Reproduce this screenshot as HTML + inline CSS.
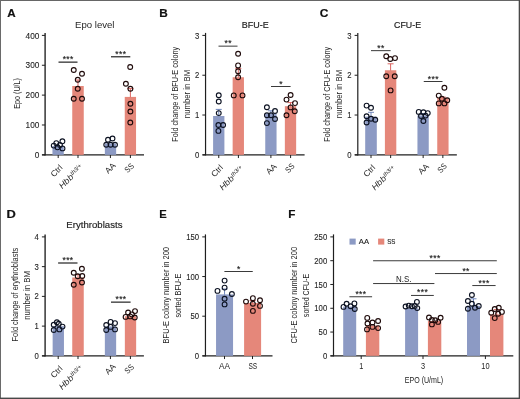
<!DOCTYPE html>
<html lang="en"><head><meta charset="utf-8"><title>Figure</title>
<style>
html,body{margin:0;padding:0;background:#fff;}
body{width:520px;height:399px;overflow:hidden;font-family:"Liberation Sans",Arial,sans-serif;}
svg{display:block;}
svg text{font-family:"Liberation Sans",Arial,sans-serif;}
</style></head><body>
<svg width="520" height="399" viewBox="0 0 520 399" role="img" aria-label="Bar charts A to F">
<rect x="0" y="0" width="520" height="399" fill="#ffffff"/>
<rect x="0.00" y="0.00" width="520.00" height="1.00" fill="#666666"/>
<rect x="0.00" y="0.00" width="1.00" height="399.00" fill="#6a6a6a"/>
<rect x="518.70" y="0.00" width="1.30" height="399.00" fill="#484848"/>
<rect x="0.00" y="397.60" width="520.00" height="1.40" fill="#484848"/>
<text transform="translate(7.31,16.70) scale(0.9854,1)" font-size="11.8" font-weight="bold" fill="#111" stroke="#111" stroke-width="0.2">A</text>
<text transform="translate(159.21,16.70)" font-size="11.8" font-weight="bold" fill="#111" stroke="#111" stroke-width="0.2">B</text>
<text transform="translate(319.71,16.70) scale(1.0105,1)" font-size="11.8" font-weight="bold" fill="#111" stroke="#111" stroke-width="0.2">C</text>
<text transform="translate(6.54,217.70) scale(1.0916,1)" font-size="11.8" font-weight="bold" fill="#111" stroke="#111" stroke-width="0.2">D</text>
<text transform="translate(159.35,217.70) scale(0.9506,1)" font-size="11.8" font-weight="bold" fill="#111" stroke="#111" stroke-width="0.2">E</text>
<text transform="translate(288.17,217.70) scale(0.9936,1)" font-size="11.8" font-weight="bold" fill="#111" stroke="#111" stroke-width="0.2">F</text>
<line x1="45.10" y1="32.90" x2="45.10" y2="155.40" stroke="#1f1f1f" stroke-width="1.35"/>
<line x1="41.90" y1="154.85" x2="45.10" y2="154.85" stroke="#1f1f1f" stroke-width="1.0"/>
<text transform="translate(39.40,157.95) scale(0.8990,1)" font-size="9.2" text-anchor="end" fill="#262626" stroke="#262626" stroke-width="0.12">0</text>
<line x1="41.90" y1="124.99" x2="45.10" y2="124.99" stroke="#1f1f1f" stroke-width="1.0"/>
<text transform="translate(39.40,128.09) scale(0.8990,1)" font-size="9.2" text-anchor="end" fill="#262626" stroke="#262626" stroke-width="0.12">100</text>
<line x1="41.90" y1="95.12" x2="45.10" y2="95.12" stroke="#1f1f1f" stroke-width="1.0"/>
<text transform="translate(39.40,98.22) scale(0.8990,1)" font-size="9.2" text-anchor="end" fill="#262626" stroke="#262626" stroke-width="0.12">200</text>
<line x1="41.90" y1="65.26" x2="45.10" y2="65.26" stroke="#1f1f1f" stroke-width="1.0"/>
<text transform="translate(39.40,68.36) scale(0.8990,1)" font-size="9.2" text-anchor="end" fill="#262626" stroke="#262626" stroke-width="0.12">300</text>
<line x1="41.90" y1="35.40" x2="45.10" y2="35.40" stroke="#1f1f1f" stroke-width="1.0"/>
<text transform="translate(39.40,38.50) scale(0.8990,1)" font-size="9.2" text-anchor="end" fill="#262626" stroke="#262626" stroke-width="0.12">400</text>
<line x1="42.10" y1="154.85" x2="144.00" y2="154.85" stroke="#1f1f1f" stroke-width="1.25"/>
<line x1="58.20" y1="154.85" x2="58.20" y2="158.05" stroke="#1f1f1f" stroke-width="1.0"/>
<line x1="78.00" y1="154.85" x2="78.00" y2="158.05" stroke="#1f1f1f" stroke-width="1.0"/>
<line x1="110.40" y1="154.85" x2="110.40" y2="158.05" stroke="#1f1f1f" stroke-width="1.0"/>
<line x1="130.40" y1="154.85" x2="130.40" y2="158.05" stroke="#1f1f1f" stroke-width="1.0"/>
<text transform="translate(94.75,27.60) scale(1.0669,1)" font-size="9.0" text-anchor="middle" fill="#262626">Epo level</text>
<text transform="translate(19.70,93.40) rotate(-90) scale(0.8179,1)" font-size="8.8" text-anchor="middle" fill="#262626">Epo (U/L)</text>
<rect x="52.45" y="146.00" width="11.30" height="8.85" fill="#8c9ac4"/>
<circle cx="53.75" cy="145.60" r="2.4" fill="none" stroke="#0c1222" stroke-width="1.12"/>
<circle cx="56.30" cy="143.20" r="2.4" fill="none" stroke="#0c1222" stroke-width="1.12"/>
<circle cx="62.40" cy="141.30" r="2.4" fill="none" stroke="#0c1222" stroke-width="1.12"/>
<circle cx="60.00" cy="145.00" r="2.4" fill="none" stroke="#0c1222" stroke-width="1.12"/>
<circle cx="62.50" cy="148.40" r="2.4" fill="none" stroke="#0c1222" stroke-width="1.12"/>
<circle cx="57.50" cy="147.30" r="2.4" fill="none" stroke="#0c1222" stroke-width="1.12"/>
<rect x="72.25" y="86.00" width="11.50" height="68.85" fill="#e5877a"/>
<line x1="78.00" y1="80.00" x2="78.00" y2="86.30" stroke="#d8544f" stroke-width="0.9"/>
<line x1="75.00" y1="80.00" x2="81.00" y2="80.00" stroke="#d8544f" stroke-width="0.9"/>
<circle cx="73.75" cy="70.00" r="2.4" fill="none" stroke="#1e0a0a" stroke-width="1.12"/>
<circle cx="82.00" cy="73.75" r="2.4" fill="none" stroke="#1e0a0a" stroke-width="1.12"/>
<circle cx="77.75" cy="79.75" r="2.4" fill="none" stroke="#1e0a0a" stroke-width="1.12"/>
<circle cx="77.75" cy="88.75" r="2.4" fill="none" stroke="#1e0a0a" stroke-width="1.12"/>
<circle cx="73.75" cy="98.75" r="2.4" fill="none" stroke="#1e0a0a" stroke-width="1.12"/>
<circle cx="82.00" cy="98.75" r="2.4" fill="none" stroke="#1e0a0a" stroke-width="1.12"/>
<rect x="104.85" y="143.40" width="11.30" height="11.45" fill="#8c9ac4"/>
<circle cx="108.00" cy="139.75" r="2.4" fill="none" stroke="#0c1222" stroke-width="1.12"/>
<circle cx="112.50" cy="138.50" r="2.4" fill="none" stroke="#0c1222" stroke-width="1.12"/>
<circle cx="106.25" cy="144.75" r="2.4" fill="none" stroke="#0c1222" stroke-width="1.12"/>
<circle cx="110.60" cy="144.75" r="2.4" fill="none" stroke="#0c1222" stroke-width="1.12"/>
<circle cx="115.00" cy="144.75" r="2.4" fill="none" stroke="#0c1222" stroke-width="1.12"/>
<rect x="124.75" y="96.90" width="11.30" height="57.95" fill="#e5877a"/>
<line x1="130.40" y1="88.60" x2="130.40" y2="97.20" stroke="#d8544f" stroke-width="0.9"/>
<line x1="127.40" y1="88.60" x2="133.40" y2="88.60" stroke="#d8544f" stroke-width="0.9"/>
<circle cx="130.20" cy="67.00" r="2.4" fill="none" stroke="#1e0a0a" stroke-width="1.12"/>
<circle cx="125.90" cy="83.75" r="2.4" fill="none" stroke="#1e0a0a" stroke-width="1.12"/>
<circle cx="130.40" cy="88.75" r="2.4" fill="none" stroke="#1e0a0a" stroke-width="1.12"/>
<circle cx="130.40" cy="103.75" r="2.4" fill="none" stroke="#1e0a0a" stroke-width="1.12"/>
<circle cx="130.40" cy="111.50" r="2.4" fill="none" stroke="#1e0a0a" stroke-width="1.12"/>
<circle cx="130.30" cy="122.50" r="2.4" fill="none" stroke="#1e0a0a" stroke-width="1.12"/>
<line x1="58.50" y1="62.15" x2="77.50" y2="62.15" stroke="#3a3a3a" stroke-width="1.35"/>
<text transform="translate(68.20,62.15)" font-size="8.5" text-anchor="middle" fill="#1a1a1a" letter-spacing="0.4" stroke="#1a1a1a" stroke-width="0.15">***</text>
<line x1="111.00" y1="56.75" x2="130.30" y2="56.75" stroke="#3a3a3a" stroke-width="1.35"/>
<text transform="translate(120.85,56.75)" font-size="8.5" text-anchor="middle" fill="#1a1a1a" letter-spacing="0.4" stroke="#1a1a1a" stroke-width="0.15">***</text>
<text transform="translate(63.10,168.30) rotate(-45)" font-size="8.3" text-anchor="end" fill="#262626">Ctrl</text>
<g transform="translate(83.70,167.80) rotate(-45)" font-style="italic" fill="#262626"><text transform="translate(-13.79,0) scale(1.08,1)" text-anchor="end" font-size="8.4">Hbb</text><text x="-13.29" y="-2.5" font-size="5.9">th3/+</text></g>
<text transform="translate(116.20,166.10) rotate(-45)" font-size="8.3" text-anchor="end" fill="#262626">AA</text>
<text transform="translate(134.60,166.60) rotate(-45) scale(0.8600,1)" font-size="8.3" text-anchor="end" fill="#262626">SS</text>
<line x1="205.55" y1="32.90" x2="205.55" y2="155.40" stroke="#1f1f1f" stroke-width="1.2000000000000002"/>
<line x1="202.35" y1="154.85" x2="205.55" y2="154.85" stroke="#1f1f1f" stroke-width="1.0"/>
<text transform="translate(199.25,157.95) scale(0.8404,1)" font-size="9.2" text-anchor="end" fill="#262626" stroke="#262626" stroke-width="0.12">0</text>
<line x1="202.35" y1="115.03" x2="205.55" y2="115.03" stroke="#1f1f1f" stroke-width="1.0"/>
<text transform="translate(199.25,118.13) scale(0.8404,1)" font-size="9.2" text-anchor="end" fill="#262626" stroke="#262626" stroke-width="0.12">1</text>
<line x1="202.35" y1="75.22" x2="205.55" y2="75.22" stroke="#1f1f1f" stroke-width="1.0"/>
<text transform="translate(199.25,78.32) scale(0.8404,1)" font-size="9.2" text-anchor="end" fill="#262626" stroke="#262626" stroke-width="0.12">2</text>
<line x1="202.35" y1="35.40" x2="205.55" y2="35.40" stroke="#1f1f1f" stroke-width="1.0"/>
<text transform="translate(199.25,38.50) scale(0.8404,1)" font-size="9.2" text-anchor="end" fill="#262626" stroke="#262626" stroke-width="0.12">3</text>
<line x1="202.55" y1="154.85" x2="304.60" y2="154.85" stroke="#1f1f1f" stroke-width="1.1"/>
<line x1="218.75" y1="154.85" x2="218.75" y2="158.05" stroke="#1f1f1f" stroke-width="1.0"/>
<line x1="238.40" y1="154.85" x2="238.40" y2="158.05" stroke="#1f1f1f" stroke-width="1.0"/>
<line x1="270.90" y1="154.85" x2="270.90" y2="158.05" stroke="#1f1f1f" stroke-width="1.0"/>
<line x1="290.60" y1="154.85" x2="290.60" y2="158.05" stroke="#1f1f1f" stroke-width="1.0"/>
<text transform="translate(255.30,27.85) scale(0.9278,1)" font-size="9.7" text-anchor="middle" fill="#222" stroke="#222" stroke-width="0.2">BFU-E</text>
<text transform="translate(178.20,94.25) rotate(-90) scale(0.7820,1)" font-size="9.3" text-anchor="middle" fill="#262626">Fold change of BFU-E colony</text>
<text transform="translate(189.80,94.00) rotate(-90) scale(0.8361,1)" font-size="9.3" text-anchor="middle" fill="#262626">number in BM</text>
<text transform="translate(223.60,168.30) rotate(-45)" font-size="8.3" text-anchor="end" fill="#262626">Ctrl</text>
<g transform="translate(244.20,169.30) rotate(-45)" font-style="italic" fill="#262626"><text transform="translate(-13.79,0) scale(1.08,1)" text-anchor="end" font-size="8.4">Hbb</text><text x="-13.29" y="-2.5" font-size="5.9">th3/+</text></g>
<text transform="translate(277.10,167.00) rotate(-45)" font-size="8.3" text-anchor="end" fill="#262626">AA</text>
<text transform="translate(295.20,166.70) rotate(-45) scale(0.8600,1)" font-size="8.3" text-anchor="end" fill="#262626">SS</text>
<rect x="213.10" y="116.00" width="11.30" height="38.85" fill="#8c9ac4"/>
<line x1="218.75" y1="109.40" x2="218.75" y2="116.30" stroke="#5f78b3" stroke-width="0.9"/>
<line x1="215.75" y1="109.40" x2="221.75" y2="109.40" stroke="#5f78b3" stroke-width="0.9"/>
<circle cx="218.75" cy="95.25" r="2.4" fill="none" stroke="#0c1222" stroke-width="1.12"/>
<circle cx="218.75" cy="101.50" r="2.4" fill="none" stroke="#0c1222" stroke-width="1.12"/>
<circle cx="218.75" cy="113.10" r="2.4" fill="none" stroke="#0c1222" stroke-width="1.12"/>
<circle cx="218.40" cy="125.00" r="2.4" fill="none" stroke="#0c1222" stroke-width="1.12"/>
<circle cx="223.10" cy="125.00" r="2.4" fill="none" stroke="#0c1222" stroke-width="1.12"/>
<circle cx="218.40" cy="130.90" r="2.4" fill="none" stroke="#0c1222" stroke-width="1.12"/>
<rect x="232.65" y="77.25" width="11.30" height="77.60" fill="#e5877a"/>
<line x1="238.30" y1="68.60" x2="238.30" y2="77.55" stroke="#d8544f" stroke-width="0.9"/>
<line x1="235.30" y1="68.60" x2="241.30" y2="68.60" stroke="#d8544f" stroke-width="0.9"/>
<circle cx="238.10" cy="53.75" r="2.4" fill="none" stroke="#1e0a0a" stroke-width="1.12"/>
<circle cx="238.10" cy="65.40" r="2.4" fill="none" stroke="#1e0a0a" stroke-width="1.12"/>
<circle cx="238.10" cy="71.25" r="2.4" fill="none" stroke="#1e0a0a" stroke-width="1.12"/>
<circle cx="238.10" cy="77.25" r="2.4" fill="none" stroke="#1e0a0a" stroke-width="1.12"/>
<circle cx="233.75" cy="95.40" r="2.4" fill="none" stroke="#1e0a0a" stroke-width="1.12"/>
<circle cx="242.50" cy="95.40" r="2.4" fill="none" stroke="#1e0a0a" stroke-width="1.12"/>
<rect x="265.25" y="113.60" width="11.30" height="41.25" fill="#8c9ac4"/>
<line x1="270.90" y1="110.80" x2="270.90" y2="113.90" stroke="#5f78b3" stroke-width="0.9"/>
<line x1="267.90" y1="110.80" x2="273.90" y2="110.80" stroke="#5f78b3" stroke-width="0.9"/>
<circle cx="266.90" cy="107.25" r="2.4" fill="none" stroke="#0c1222" stroke-width="1.12"/>
<circle cx="275.00" cy="111.00" r="2.4" fill="none" stroke="#0c1222" stroke-width="1.12"/>
<circle cx="266.90" cy="115.25" r="2.4" fill="none" stroke="#0c1222" stroke-width="1.12"/>
<circle cx="271.00" cy="115.25" r="2.4" fill="none" stroke="#0c1222" stroke-width="1.12"/>
<circle cx="275.00" cy="119.00" r="2.4" fill="none" stroke="#0c1222" stroke-width="1.12"/>
<circle cx="266.90" cy="123.10" r="2.4" fill="none" stroke="#0c1222" stroke-width="1.12"/>
<rect x="284.85" y="106.20" width="11.30" height="48.65" fill="#e5877a"/>
<line x1="290.50" y1="102.60" x2="290.50" y2="106.50" stroke="#d8544f" stroke-width="0.9"/>
<line x1="287.50" y1="102.60" x2="293.50" y2="102.60" stroke="#d8544f" stroke-width="0.9"/>
<circle cx="290.60" cy="95.00" r="2.4" fill="none" stroke="#1e0a0a" stroke-width="1.12"/>
<circle cx="286.50" cy="99.60" r="2.4" fill="none" stroke="#1e0a0a" stroke-width="1.12"/>
<circle cx="295.00" cy="103.10" r="2.4" fill="none" stroke="#1e0a0a" stroke-width="1.12"/>
<circle cx="290.60" cy="107.40" r="2.4" fill="none" stroke="#1e0a0a" stroke-width="1.12"/>
<circle cx="294.75" cy="111.25" r="2.4" fill="none" stroke="#1e0a0a" stroke-width="1.12"/>
<circle cx="286.50" cy="115.25" r="2.4" fill="none" stroke="#1e0a0a" stroke-width="1.12"/>
<line x1="218.50" y1="46.15" x2="237.50" y2="46.15" stroke="#3a3a3a" stroke-width="1.0"/>
<text transform="translate(228.20,46.15)" font-size="8.5" text-anchor="middle" fill="#1a1a1a" letter-spacing="0.4" stroke="#1a1a1a" stroke-width="0.15">**</text>
<line x1="271.00" y1="86.50" x2="290.60" y2="86.50" stroke="#3a3a3a" stroke-width="1.0"/>
<text transform="translate(281.00,86.50)" font-size="8.5" text-anchor="middle" fill="#1a1a1a" letter-spacing="0.4" stroke="#1a1a1a" stroke-width="0.15">*</text>
<line x1="357.80" y1="32.90" x2="357.80" y2="155.40" stroke="#1f1f1f" stroke-width="1.2000000000000002"/>
<line x1="354.60" y1="154.85" x2="357.80" y2="154.85" stroke="#1f1f1f" stroke-width="1.0"/>
<text transform="translate(351.50,157.95) scale(0.8404,1)" font-size="9.2" text-anchor="end" fill="#262626" stroke="#262626" stroke-width="0.12">0</text>
<line x1="354.60" y1="115.03" x2="357.80" y2="115.03" stroke="#1f1f1f" stroke-width="1.0"/>
<text transform="translate(351.50,118.13) scale(0.8404,1)" font-size="9.2" text-anchor="end" fill="#262626" stroke="#262626" stroke-width="0.12">1</text>
<line x1="354.60" y1="75.22" x2="357.80" y2="75.22" stroke="#1f1f1f" stroke-width="1.0"/>
<text transform="translate(351.50,78.32) scale(0.8404,1)" font-size="9.2" text-anchor="end" fill="#262626" stroke="#262626" stroke-width="0.12">2</text>
<line x1="354.60" y1="35.40" x2="357.80" y2="35.40" stroke="#1f1f1f" stroke-width="1.0"/>
<text transform="translate(351.50,38.50) scale(0.8404,1)" font-size="9.2" text-anchor="end" fill="#262626" stroke="#262626" stroke-width="0.12">3</text>
<line x1="354.80" y1="154.85" x2="456.85" y2="154.85" stroke="#1f1f1f" stroke-width="1.1"/>
<line x1="371.00" y1="154.85" x2="371.00" y2="158.05" stroke="#1f1f1f" stroke-width="1.0"/>
<line x1="390.65" y1="154.85" x2="390.65" y2="158.05" stroke="#1f1f1f" stroke-width="1.0"/>
<line x1="423.15" y1="154.85" x2="423.15" y2="158.05" stroke="#1f1f1f" stroke-width="1.0"/>
<line x1="442.85" y1="154.85" x2="442.85" y2="158.05" stroke="#1f1f1f" stroke-width="1.0"/>
<text transform="translate(407.55,27.85) scale(0.9111,1)" font-size="9.7" text-anchor="middle" fill="#222" stroke="#222" stroke-width="0.2">CFU-E</text>
<text transform="translate(330.45,94.25) rotate(-90) scale(0.7787,1)" font-size="9.3" text-anchor="middle" fill="#262626">Fold change of CFU-E colony</text>
<text transform="translate(342.05,94.00) rotate(-90) scale(0.8361,1)" font-size="9.3" text-anchor="middle" fill="#262626">number in BM</text>
<text transform="translate(375.85,168.30) rotate(-45)" font-size="8.3" text-anchor="end" fill="#262626">Ctrl</text>
<g transform="translate(396.45,169.30) rotate(-45)" font-style="italic" fill="#262626"><text transform="translate(-13.79,0) scale(1.08,1)" text-anchor="end" font-size="8.4">Hbb</text><text x="-13.29" y="-2.5" font-size="5.9">th3/+</text></g>
<text transform="translate(429.35,167.00) rotate(-45)" font-size="8.3" text-anchor="end" fill="#262626">AA</text>
<text transform="translate(447.45,166.70) rotate(-45) scale(0.8600,1)" font-size="8.3" text-anchor="end" fill="#262626">SS</text>
<rect x="365.20" y="116.60" width="11.60" height="38.25" fill="#8c9ac4"/>
<line x1="371.00" y1="112.30" x2="371.00" y2="116.90" stroke="#5f78b3" stroke-width="0.9"/>
<line x1="368.00" y1="112.30" x2="374.00" y2="112.30" stroke="#5f78b3" stroke-width="0.9"/>
<circle cx="366.60" cy="105.60" r="2.4" fill="none" stroke="#0c1222" stroke-width="1.12"/>
<circle cx="371.00" cy="107.75" r="2.4" fill="none" stroke="#0c1222" stroke-width="1.12"/>
<circle cx="366.60" cy="116.25" r="2.4" fill="none" stroke="#0c1222" stroke-width="1.12"/>
<circle cx="371.00" cy="118.75" r="2.4" fill="none" stroke="#0c1222" stroke-width="1.12"/>
<circle cx="375.25" cy="119.75" r="2.4" fill="none" stroke="#0c1222" stroke-width="1.12"/>
<circle cx="366.60" cy="122.50" r="2.4" fill="none" stroke="#0c1222" stroke-width="1.12"/>
<rect x="384.90" y="70.25" width="11.40" height="84.60" fill="#e5877a"/>
<line x1="390.60" y1="63.80" x2="390.60" y2="70.55" stroke="#d8544f" stroke-width="0.9"/>
<line x1="387.60" y1="63.80" x2="393.60" y2="63.80" stroke="#d8544f" stroke-width="0.9"/>
<circle cx="386.25" cy="56.25" r="2.4" fill="none" stroke="#1e0a0a" stroke-width="1.12"/>
<circle cx="390.25" cy="59.00" r="2.4" fill="none" stroke="#1e0a0a" stroke-width="1.12"/>
<circle cx="395.00" cy="58.10" r="2.4" fill="none" stroke="#1e0a0a" stroke-width="1.12"/>
<circle cx="386.25" cy="76.25" r="2.4" fill="none" stroke="#1e0a0a" stroke-width="1.12"/>
<circle cx="394.75" cy="76.25" r="2.4" fill="none" stroke="#1e0a0a" stroke-width="1.12"/>
<circle cx="390.60" cy="90.40" r="2.4" fill="none" stroke="#1e0a0a" stroke-width="1.12"/>
<rect x="417.45" y="115.40" width="11.30" height="39.45" fill="#8c9ac4"/>
<line x1="423.10" y1="113.60" x2="423.10" y2="115.70" stroke="#5f78b3" stroke-width="0.9"/>
<line x1="420.10" y1="113.60" x2="426.10" y2="113.60" stroke="#5f78b3" stroke-width="0.9"/>
<circle cx="418.75" cy="111.90" r="2.4" fill="none" stroke="#0c1222" stroke-width="1.12"/>
<circle cx="423.40" cy="112.25" r="2.4" fill="none" stroke="#0c1222" stroke-width="1.12"/>
<circle cx="427.75" cy="113.10" r="2.4" fill="none" stroke="#0c1222" stroke-width="1.12"/>
<circle cx="421.00" cy="116.00" r="2.4" fill="none" stroke="#0c1222" stroke-width="1.12"/>
<circle cx="425.60" cy="115.60" r="2.4" fill="none" stroke="#0c1222" stroke-width="1.12"/>
<circle cx="423.40" cy="121.00" r="2.4" fill="none" stroke="#0c1222" stroke-width="1.12"/>
<rect x="437.25" y="97.90" width="11.30" height="56.95" fill="#e5877a"/>
<line x1="442.90" y1="97.20" x2="442.90" y2="98.20" stroke="#d8544f" stroke-width="0.9"/>
<line x1="439.90" y1="97.20" x2="445.90" y2="97.20" stroke="#d8544f" stroke-width="0.9"/>
<circle cx="444.40" cy="87.75" r="2.4" fill="none" stroke="#1e0a0a" stroke-width="1.12"/>
<circle cx="438.75" cy="95.60" r="2.4" fill="none" stroke="#1e0a0a" stroke-width="1.12"/>
<circle cx="441.90" cy="98.75" r="2.4" fill="none" stroke="#1e0a0a" stroke-width="1.12"/>
<circle cx="447.25" cy="100.25" r="2.4" fill="none" stroke="#1e0a0a" stroke-width="1.12"/>
<circle cx="438.75" cy="103.40" r="2.4" fill="none" stroke="#1e0a0a" stroke-width="1.12"/>
<circle cx="444.40" cy="103.40" r="2.4" fill="none" stroke="#1e0a0a" stroke-width="1.12"/>
<line x1="371.00" y1="50.65" x2="390.60" y2="50.65" stroke="#3a3a3a" stroke-width="1.0"/>
<text transform="translate(381.00,50.65)" font-size="8.5" text-anchor="middle" fill="#1a1a1a" letter-spacing="0.4" stroke="#1a1a1a" stroke-width="0.15">**</text>
<line x1="423.75" y1="81.50" x2="442.50" y2="81.50" stroke="#3a3a3a" stroke-width="1.0"/>
<text transform="translate(433.32,81.50)" font-size="8.5" text-anchor="middle" fill="#1a1a1a" letter-spacing="0.4" stroke="#1a1a1a" stroke-width="0.15">***</text>
<line x1="45.10" y1="234.40" x2="45.10" y2="356.40" stroke="#1f1f1f" stroke-width="1.35"/>
<line x1="41.90" y1="355.85" x2="45.10" y2="355.85" stroke="#1f1f1f" stroke-width="1.0"/>
<text transform="translate(38.80,358.95) scale(0.8404,1)" font-size="9.2" text-anchor="end" fill="#262626" stroke="#262626" stroke-width="0.12">0</text>
<line x1="41.90" y1="326.11" x2="45.10" y2="326.11" stroke="#1f1f1f" stroke-width="1.0"/>
<text transform="translate(38.80,329.21) scale(0.8404,1)" font-size="9.2" text-anchor="end" fill="#262626" stroke="#262626" stroke-width="0.12">1</text>
<line x1="41.90" y1="296.38" x2="45.10" y2="296.38" stroke="#1f1f1f" stroke-width="1.0"/>
<text transform="translate(38.80,299.48) scale(0.8404,1)" font-size="9.2" text-anchor="end" fill="#262626" stroke="#262626" stroke-width="0.12">2</text>
<line x1="41.90" y1="266.64" x2="45.10" y2="266.64" stroke="#1f1f1f" stroke-width="1.0"/>
<text transform="translate(38.80,269.74) scale(0.8404,1)" font-size="9.2" text-anchor="end" fill="#262626" stroke="#262626" stroke-width="0.12">3</text>
<line x1="41.90" y1="236.90" x2="45.10" y2="236.90" stroke="#1f1f1f" stroke-width="1.0"/>
<text transform="translate(38.80,240.00) scale(0.8404,1)" font-size="9.2" text-anchor="end" fill="#262626" stroke="#262626" stroke-width="0.12">4</text>
<line x1="42.10" y1="355.85" x2="143.90" y2="355.85" stroke="#1f1f1f" stroke-width="1.25"/>
<line x1="58.20" y1="355.85" x2="58.20" y2="359.05" stroke="#1f1f1f" stroke-width="1.0"/>
<line x1="78.00" y1="355.85" x2="78.00" y2="359.05" stroke="#1f1f1f" stroke-width="1.0"/>
<line x1="110.40" y1="355.85" x2="110.40" y2="359.05" stroke="#1f1f1f" stroke-width="1.0"/>
<line x1="130.40" y1="355.85" x2="130.40" y2="359.05" stroke="#1f1f1f" stroke-width="1.0"/>
<text transform="translate(94.40,228.20) scale(1.0701,1)" font-size="9.0" text-anchor="middle" fill="#222" stroke="#222" stroke-width="0.15">Erythroblasts</text>
<text transform="translate(17.70,294.60) rotate(-90) scale(0.7993,1)" font-size="9.3" text-anchor="middle" fill="#262626">Fold change of erythroblasts</text>
<text transform="translate(29.70,295.40) rotate(-90) scale(0.8430,1)" font-size="9.3" text-anchor="middle" fill="#262626">number in BM</text>
<rect x="52.65" y="326.20" width="11.30" height="29.65" fill="#8c9ac4"/>
<circle cx="56.90" cy="322.25" r="2.4" fill="none" stroke="#0c1222" stroke-width="1.12"/>
<circle cx="53.75" cy="324.75" r="2.4" fill="none" stroke="#0c1222" stroke-width="1.12"/>
<circle cx="58.75" cy="323.75" r="2.4" fill="none" stroke="#0c1222" stroke-width="1.12"/>
<circle cx="62.50" cy="326.60" r="2.4" fill="none" stroke="#0c1222" stroke-width="1.12"/>
<circle cx="53.75" cy="330.00" r="2.4" fill="none" stroke="#0c1222" stroke-width="1.12"/>
<circle cx="59.40" cy="329.40" r="2.4" fill="none" stroke="#0c1222" stroke-width="1.12"/>
<rect x="72.25" y="277.50" width="11.50" height="78.35" fill="#e5877a"/>
<line x1="78.00" y1="274.60" x2="78.00" y2="277.80" stroke="#d8544f" stroke-width="0.9"/>
<line x1="75.00" y1="274.60" x2="81.00" y2="274.60" stroke="#d8544f" stroke-width="0.9"/>
<circle cx="81.90" cy="268.75" r="2.4" fill="none" stroke="#1e0a0a" stroke-width="1.12"/>
<circle cx="73.75" cy="272.75" r="2.4" fill="none" stroke="#1e0a0a" stroke-width="1.12"/>
<circle cx="77.75" cy="276.25" r="2.4" fill="none" stroke="#1e0a0a" stroke-width="1.12"/>
<circle cx="82.25" cy="276.00" r="2.4" fill="none" stroke="#1e0a0a" stroke-width="1.12"/>
<circle cx="82.00" cy="282.50" r="2.4" fill="none" stroke="#1e0a0a" stroke-width="1.12"/>
<circle cx="73.75" cy="284.75" r="2.4" fill="none" stroke="#1e0a0a" stroke-width="1.12"/>
<rect x="104.85" y="326.40" width="11.30" height="29.45" fill="#8c9ac4"/>
<circle cx="110.60" cy="321.90" r="2.4" fill="none" stroke="#0c1222" stroke-width="1.12"/>
<circle cx="106.25" cy="325.00" r="2.4" fill="none" stroke="#0c1222" stroke-width="1.12"/>
<circle cx="115.00" cy="323.10" r="2.4" fill="none" stroke="#0c1222" stroke-width="1.12"/>
<circle cx="110.60" cy="326.90" r="2.4" fill="none" stroke="#0c1222" stroke-width="1.12"/>
<circle cx="106.25" cy="330.00" r="2.4" fill="none" stroke="#0c1222" stroke-width="1.12"/>
<circle cx="115.00" cy="329.40" r="2.4" fill="none" stroke="#0c1222" stroke-width="1.12"/>
<rect x="124.85" y="316.20" width="11.30" height="39.65" fill="#e5877a"/>
<circle cx="128.10" cy="312.50" r="2.4" fill="none" stroke="#1e0a0a" stroke-width="1.12"/>
<circle cx="135.00" cy="311.10" r="2.4" fill="none" stroke="#1e0a0a" stroke-width="1.12"/>
<circle cx="131.90" cy="314.40" r="2.4" fill="none" stroke="#1e0a0a" stroke-width="1.12"/>
<circle cx="125.60" cy="316.90" r="2.4" fill="none" stroke="#1e0a0a" stroke-width="1.12"/>
<circle cx="134.75" cy="317.50" r="2.4" fill="none" stroke="#1e0a0a" stroke-width="1.12"/>
<circle cx="130.20" cy="316.40" r="2.4" fill="none" stroke="#1e0a0a" stroke-width="1.12"/>
<line x1="58.10" y1="263.00" x2="77.50" y2="263.00" stroke="#3a3a3a" stroke-width="1.35"/>
<text transform="translate(68.00,263.00)" font-size="8.5" text-anchor="middle" fill="#1a1a1a" letter-spacing="0.4" stroke="#1a1a1a" stroke-width="0.15">***</text>
<line x1="111.00" y1="302.15" x2="130.60" y2="302.15" stroke="#3a3a3a" stroke-width="1.35"/>
<text transform="translate(121.00,302.15)" font-size="8.5" text-anchor="middle" fill="#1a1a1a" letter-spacing="0.4" stroke="#1a1a1a" stroke-width="0.15">***</text>
<text transform="translate(63.10,369.30) rotate(-45)" font-size="8.3" text-anchor="end" fill="#262626">Ctrl</text>
<g transform="translate(83.70,368.80) rotate(-45)" font-style="italic" fill="#262626"><text transform="translate(-13.79,0) scale(1.08,1)" text-anchor="end" font-size="8.4">Hbb</text><text x="-13.29" y="-2.5" font-size="5.9">th3/+</text></g>
<text transform="translate(116.20,367.10) rotate(-45)" font-size="8.3" text-anchor="end" fill="#262626">AA</text>
<text transform="translate(134.60,367.60) rotate(-45) scale(0.8600,1)" font-size="8.3" text-anchor="end" fill="#262626">SS</text>
<line x1="205.45" y1="234.40" x2="205.45" y2="356.40" stroke="#1f1f1f" stroke-width="1.2000000000000002"/>
<line x1="202.25" y1="355.85" x2="205.45" y2="355.85" stroke="#1f1f1f" stroke-width="1.0"/>
<text transform="translate(199.15,358.95) scale(0.8404,1)" font-size="9.2" text-anchor="end" fill="#262626" stroke="#262626" stroke-width="0.12">0</text>
<line x1="202.25" y1="316.20" x2="205.45" y2="316.20" stroke="#1f1f1f" stroke-width="1.0"/>
<text transform="translate(199.15,319.30) scale(0.8404,1)" font-size="9.2" text-anchor="end" fill="#262626" stroke="#262626" stroke-width="0.12">50</text>
<line x1="202.25" y1="276.55" x2="205.45" y2="276.55" stroke="#1f1f1f" stroke-width="1.0"/>
<text transform="translate(199.15,279.65) scale(0.8404,1)" font-size="9.2" text-anchor="end" fill="#262626" stroke="#262626" stroke-width="0.12">100</text>
<line x1="202.25" y1="236.90" x2="205.45" y2="236.90" stroke="#1f1f1f" stroke-width="1.0"/>
<text transform="translate(199.15,240.00) scale(0.8404,1)" font-size="9.2" text-anchor="end" fill="#262626" stroke="#262626" stroke-width="0.12">150</text>
<line x1="202.45" y1="355.85" x2="272.50" y2="355.85" stroke="#1f1f1f" stroke-width="1.1"/>
<line x1="224.50" y1="355.85" x2="224.50" y2="359.05" stroke="#1f1f1f" stroke-width="1.0"/>
<line x1="252.50" y1="355.85" x2="252.50" y2="359.05" stroke="#1f1f1f" stroke-width="1.0"/>
<text transform="translate(169.10,295.20) rotate(-90) scale(0.8090,1)" font-size="9.3" text-anchor="middle" fill="#262626">BFU-E colony number in 200</text>
<text transform="translate(181.00,295.60) rotate(-90) scale(0.7811,1)" font-size="9.3" text-anchor="middle" fill="#262626">sorted BFU-E</text>
<rect x="216.05" y="294.40" width="17.00" height="61.45" fill="#8c9ac4"/>
<line x1="224.55" y1="289.00" x2="224.55" y2="294.70" stroke="#5f78b3" stroke-width="0.9"/>
<line x1="221.55" y1="289.00" x2="227.55" y2="289.00" stroke="#5f78b3" stroke-width="0.9"/>
<circle cx="224.60" cy="280.60" r="2.4" fill="none" stroke="#0c1222" stroke-width="1.12"/>
<circle cx="224.60" cy="287.60" r="2.4" fill="none" stroke="#0c1222" stroke-width="1.12"/>
<circle cx="217.50" cy="290.90" r="2.4" fill="none" stroke="#0c1222" stroke-width="1.12"/>
<circle cx="231.90" cy="294.00" r="2.4" fill="none" stroke="#0c1222" stroke-width="1.12"/>
<circle cx="224.60" cy="298.75" r="2.4" fill="none" stroke="#0c1222" stroke-width="1.12"/>
<circle cx="224.60" cy="304.40" r="2.4" fill="none" stroke="#0c1222" stroke-width="1.12"/>
<rect x="244.10" y="303.00" width="17.00" height="52.85" fill="#e5877a"/>
<line x1="252.60" y1="300.60" x2="252.60" y2="303.30" stroke="#d8544f" stroke-width="0.9"/>
<line x1="249.60" y1="300.60" x2="255.60" y2="300.60" stroke="#d8544f" stroke-width="0.9"/>
<circle cx="252.90" cy="298.20" r="2.4" fill="none" stroke="#1e0a0a" stroke-width="1.12"/>
<circle cx="246.00" cy="301.60" r="2.4" fill="none" stroke="#1e0a0a" stroke-width="1.12"/>
<circle cx="260.00" cy="300.25" r="2.4" fill="none" stroke="#1e0a0a" stroke-width="1.12"/>
<circle cx="252.90" cy="303.75" r="2.4" fill="none" stroke="#1e0a0a" stroke-width="1.12"/>
<circle cx="260.00" cy="305.90" r="2.4" fill="none" stroke="#1e0a0a" stroke-width="1.12"/>
<circle cx="252.90" cy="310.90" r="2.4" fill="none" stroke="#1e0a0a" stroke-width="1.12"/>
<line x1="224.40" y1="271.50" x2="252.75" y2="271.50" stroke="#3a3a3a" stroke-width="1.0"/>
<text transform="translate(238.77,271.50)" font-size="8.5" text-anchor="middle" fill="#1a1a1a" letter-spacing="0.4" stroke="#1a1a1a" stroke-width="0.15">*</text>
<text transform="translate(224.50,369.00) scale(0.9935,1)" font-size="8.3" text-anchor="middle" fill="#262626">AA</text>
<text transform="translate(252.80,369.00) scale(0.7948,1)" font-size="8.3" text-anchor="middle" fill="#262626">SS</text>
<line x1="333.50" y1="234.40" x2="333.50" y2="356.40" stroke="#1f1f1f" stroke-width="1.2000000000000002"/>
<line x1="330.30" y1="355.85" x2="333.50" y2="355.85" stroke="#1f1f1f" stroke-width="1.0"/>
<text transform="translate(327.20,358.95) scale(0.8404,1)" font-size="9.2" text-anchor="end" fill="#262626" stroke="#262626" stroke-width="0.12">0</text>
<line x1="330.30" y1="332.06" x2="333.50" y2="332.06" stroke="#1f1f1f" stroke-width="1.0"/>
<text transform="translate(327.20,335.16) scale(0.8404,1)" font-size="9.2" text-anchor="end" fill="#262626" stroke="#262626" stroke-width="0.12">50</text>
<line x1="330.30" y1="308.27" x2="333.50" y2="308.27" stroke="#1f1f1f" stroke-width="1.0"/>
<text transform="translate(327.20,311.37) scale(0.8404,1)" font-size="9.2" text-anchor="end" fill="#262626" stroke="#262626" stroke-width="0.12">100</text>
<line x1="330.30" y1="284.48" x2="333.50" y2="284.48" stroke="#1f1f1f" stroke-width="1.0"/>
<text transform="translate(327.20,287.58) scale(0.8404,1)" font-size="9.2" text-anchor="end" fill="#262626" stroke="#262626" stroke-width="0.12">150</text>
<line x1="330.30" y1="260.69" x2="333.50" y2="260.69" stroke="#1f1f1f" stroke-width="1.0"/>
<text transform="translate(327.20,263.79) scale(0.8404,1)" font-size="9.2" text-anchor="end" fill="#262626" stroke="#262626" stroke-width="0.12">200</text>
<line x1="330.30" y1="236.90" x2="333.50" y2="236.90" stroke="#1f1f1f" stroke-width="1.0"/>
<text transform="translate(327.20,240.00) scale(0.8404,1)" font-size="9.2" text-anchor="end" fill="#262626" stroke="#262626" stroke-width="0.12">250</text>
<line x1="330.50" y1="355.85" x2="513.30" y2="355.85" stroke="#1f1f1f" stroke-width="1.1"/>
<line x1="361.20" y1="355.85" x2="361.20" y2="359.05" stroke="#1f1f1f" stroke-width="1.0"/>
<line x1="423.00" y1="355.85" x2="423.00" y2="359.05" stroke="#1f1f1f" stroke-width="1.0"/>
<line x1="485.40" y1="355.85" x2="485.40" y2="359.05" stroke="#1f1f1f" stroke-width="1.0"/>
<text transform="translate(297.20,295.20) rotate(-90) scale(0.8055,1)" font-size="9.3" text-anchor="middle" fill="#262626">CFU-E colony number in 200</text>
<text transform="translate(309.15,295.40) rotate(-90) scale(0.7670,1)" font-size="9.3" text-anchor="middle" fill="#262626">sorted CFU-E</text>
<rect x="343.20" y="306.60" width="13.00" height="49.25" fill="#8c9ac4"/>
<circle cx="346.60" cy="303.75" r="2.4" fill="none" stroke="#0c1222" stroke-width="1.12"/>
<circle cx="354.40" cy="303.40" r="2.4" fill="none" stroke="#0c1222" stroke-width="1.12"/>
<circle cx="343.50" cy="306.90" r="2.4" fill="none" stroke="#0c1222" stroke-width="1.12"/>
<circle cx="350.60" cy="306.25" r="2.4" fill="none" stroke="#0c1222" stroke-width="1.12"/>
<circle cx="354.75" cy="309.00" r="2.4" fill="none" stroke="#0c1222" stroke-width="1.12"/>
<rect x="365.90" y="325.60" width="13.40" height="30.25" fill="#e5877a"/>
<circle cx="367.25" cy="317.90" r="2.4" fill="none" stroke="#1e0a0a" stroke-width="1.12"/>
<circle cx="378.10" cy="321.00" r="2.4" fill="none" stroke="#1e0a0a" stroke-width="1.12"/>
<circle cx="367.50" cy="323.50" r="2.4" fill="none" stroke="#1e0a0a" stroke-width="1.12"/>
<circle cx="372.50" cy="322.50" r="2.4" fill="none" stroke="#1e0a0a" stroke-width="1.12"/>
<circle cx="372.50" cy="326.90" r="2.4" fill="none" stroke="#1e0a0a" stroke-width="1.12"/>
<circle cx="378.10" cy="328.10" r="2.4" fill="none" stroke="#1e0a0a" stroke-width="1.12"/>
<circle cx="367.00" cy="329.40" r="2.4" fill="none" stroke="#1e0a0a" stroke-width="1.12"/>
<rect x="405.10" y="308.30" width="13.00" height="47.55" fill="#8c9ac4"/>
<circle cx="416.90" cy="301.90" r="2.4" fill="none" stroke="#0c1222" stroke-width="1.12"/>
<circle cx="405.60" cy="306.50" r="2.4" fill="none" stroke="#0c1222" stroke-width="1.12"/>
<circle cx="408.75" cy="305.60" r="2.4" fill="none" stroke="#0c1222" stroke-width="1.12"/>
<circle cx="411.90" cy="306.25" r="2.4" fill="none" stroke="#0c1222" stroke-width="1.12"/>
<circle cx="414.75" cy="305.90" r="2.4" fill="none" stroke="#0c1222" stroke-width="1.12"/>
<circle cx="417.25" cy="308.10" r="2.4" fill="none" stroke="#0c1222" stroke-width="1.12"/>
<rect x="427.90" y="321.00" width="13.40" height="34.85" fill="#e5877a"/>
<circle cx="429.00" cy="317.50" r="2.4" fill="none" stroke="#1e0a0a" stroke-width="1.12"/>
<circle cx="440.60" cy="317.75" r="2.4" fill="none" stroke="#1e0a0a" stroke-width="1.12"/>
<circle cx="431.90" cy="320.00" r="2.4" fill="none" stroke="#1e0a0a" stroke-width="1.12"/>
<circle cx="435.25" cy="320.25" r="2.4" fill="none" stroke="#1e0a0a" stroke-width="1.12"/>
<circle cx="438.10" cy="321.90" r="2.4" fill="none" stroke="#1e0a0a" stroke-width="1.12"/>
<circle cx="431.90" cy="324.40" r="2.4" fill="none" stroke="#1e0a0a" stroke-width="1.12"/>
<rect x="467.00" y="305.80" width="13.00" height="50.05" fill="#8c9ac4"/>
<line x1="473.50" y1="298.80" x2="473.50" y2="306.10" stroke="#5f78b3" stroke-width="0.9"/>
<line x1="470.50" y1="298.80" x2="476.50" y2="298.80" stroke="#5f78b3" stroke-width="0.9"/>
<circle cx="471.90" cy="295.00" r="2.4" fill="none" stroke="#0c1222" stroke-width="1.12"/>
<circle cx="467.90" cy="301.00" r="2.4" fill="none" stroke="#0c1222" stroke-width="1.12"/>
<circle cx="471.90" cy="303.75" r="2.4" fill="none" stroke="#0c1222" stroke-width="1.12"/>
<circle cx="478.75" cy="306.00" r="2.4" fill="none" stroke="#0c1222" stroke-width="1.12"/>
<circle cx="467.90" cy="308.75" r="2.4" fill="none" stroke="#0c1222" stroke-width="1.12"/>
<circle cx="475.00" cy="307.75" r="2.4" fill="none" stroke="#0c1222" stroke-width="1.12"/>
<rect x="490.00" y="314.40" width="13.40" height="41.45" fill="#e5877a"/>
<line x1="496.70" y1="309.60" x2="496.70" y2="314.70" stroke="#d8544f" stroke-width="0.9"/>
<line x1="493.70" y1="309.60" x2="499.70" y2="309.60" stroke="#d8544f" stroke-width="0.9"/>
<circle cx="494.75" cy="309.00" r="2.4" fill="none" stroke="#1e0a0a" stroke-width="1.12"/>
<circle cx="498.75" cy="307.75" r="2.4" fill="none" stroke="#1e0a0a" stroke-width="1.12"/>
<circle cx="491.25" cy="312.75" r="2.4" fill="none" stroke="#1e0a0a" stroke-width="1.12"/>
<circle cx="501.90" cy="311.90" r="2.4" fill="none" stroke="#1e0a0a" stroke-width="1.12"/>
<circle cx="498.10" cy="313.75" r="2.4" fill="none" stroke="#1e0a0a" stroke-width="1.12"/>
<circle cx="494.75" cy="318.10" r="2.4" fill="none" stroke="#1e0a0a" stroke-width="1.12"/>
<rect x="349.50" y="238.60" width="6.20" height="6.00" fill="#8c9ac4"/>
<text transform="translate(358.80,244.00) scale(0.9679,1)" font-size="7.9" fill="#1a1a1a" stroke="#1a1a1a" stroke-width="0.12">AA</text>
<rect x="378.10" y="238.60" width="6.20" height="6.00" fill="#e5877a"/>
<text transform="translate(387.20,244.00) scale(0.7781,1)" font-size="7.9" fill="#1a1a1a" stroke="#1a1a1a" stroke-width="0.12">SS</text>
<line x1="349.40" y1="296.75" x2="372.10" y2="296.75" stroke="#3a3a3a" stroke-width="1.0"/>
<text transform="translate(360.95,296.75)" font-size="8.5" text-anchor="middle" fill="#1a1a1a" letter-spacing="0.4" stroke="#1a1a1a" stroke-width="0.15">***</text>
<line x1="411.00" y1="295.45" x2="433.80" y2="295.45" stroke="#3a3a3a" stroke-width="1.0"/>
<text transform="translate(422.60,295.45)" font-size="8.5" text-anchor="middle" fill="#1a1a1a" letter-spacing="0.4" stroke="#1a1a1a" stroke-width="0.15">***</text>
<line x1="472.30" y1="285.55" x2="495.60" y2="285.55" stroke="#3a3a3a" stroke-width="1.0"/>
<text transform="translate(484.15,285.55)" font-size="8.5" text-anchor="middle" fill="#1a1a1a" letter-spacing="0.4" stroke="#1a1a1a" stroke-width="0.15">***</text>
<line x1="373.10" y1="260.75" x2="496.80" y2="260.75" stroke="#3a3a3a" stroke-width="1.0"/>
<text transform="translate(435.15,260.75)" font-size="8.5" text-anchor="middle" fill="#1a1a1a" letter-spacing="0.4" stroke="#1a1a1a" stroke-width="0.15">***</text>
<line x1="373.10" y1="283.55" x2="434.40" y2="283.55" stroke="#3a3a3a" stroke-width="1.0"/>
<text transform="translate(403.75,281.65) scale(0.8998,1)" font-size="8.8" text-anchor="middle" fill="#222">N.S.</text>
<line x1="435.00" y1="273.55" x2="496.80" y2="273.55" stroke="#3a3a3a" stroke-width="1.0"/>
<text transform="translate(466.10,273.55)" font-size="8.5" text-anchor="middle" fill="#1a1a1a" letter-spacing="0.4" stroke="#1a1a1a" stroke-width="0.15">**</text>
<text transform="translate(361.20,368.80) scale(0.8882,1)" font-size="8.3" text-anchor="middle" fill="#262626">1</text>
<text transform="translate(423.00,368.80) scale(0.8882,1)" font-size="8.3" text-anchor="middle" fill="#262626">3</text>
<text transform="translate(485.50,368.80) scale(0.8990,1)" font-size="8.3" text-anchor="middle" fill="#262626">10</text>
<text transform="translate(424.00,382.70) scale(0.7686,1)" font-size="9.2" text-anchor="middle" fill="#222">EPO (U/mL)</text>
</svg>
</body></html>
